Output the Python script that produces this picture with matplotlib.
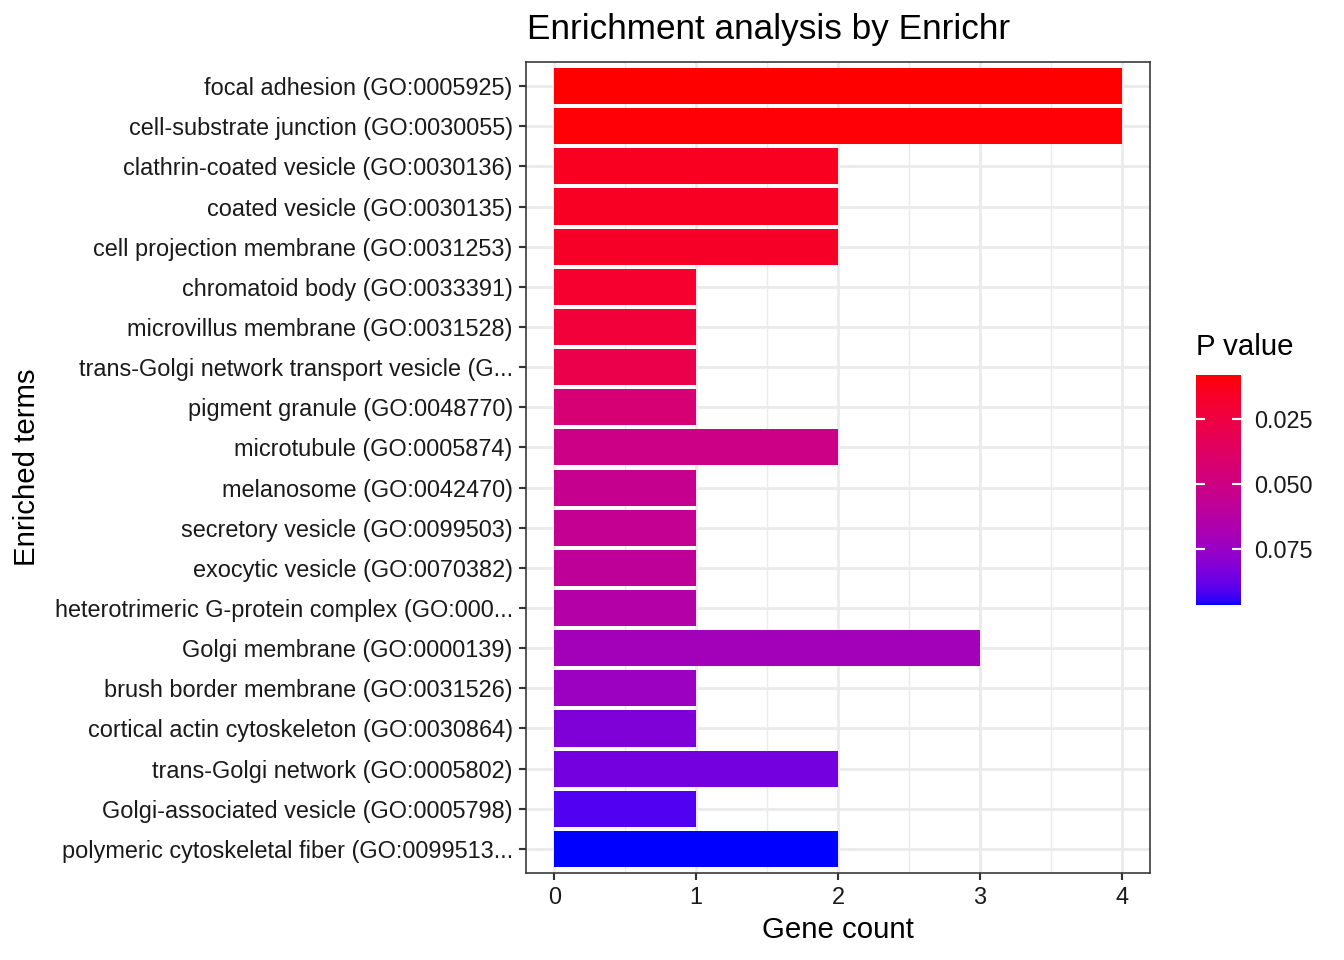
import numpy as np
import matplotlib
matplotlib.use("Agg")
import matplotlib.pyplot as plt
from matplotlib.colors import ListedColormap, Normalize
from matplotlib.cm import ScalarMappable

plt.rcParams['font.family'] = ['Liberation Sans', 'DejaVu Sans']

terms = [
    "focal adhesion (GO:0005925)",
    "cell-substrate junction (GO:0030055)",
    "clathrin-coated vesicle (GO:0030136)",
    "coated vesicle (GO:0030135)",
    "cell projection membrane (GO:0031253)",
    "chromatoid body (GO:0033391)",
    "microvillus membrane (GO:0031528)",
    "trans-Golgi network transport vesicle (G...",
    "pigment granule (GO:0048770)",
    "microtubule (GO:0005874)",
    "melanosome (GO:0042470)",
    "secretory vesicle (GO:0099503)",
    "exocytic vesicle (GO:0070382)",
    "heterotrimeric G-protein complex (GO:000...",
    "Golgi membrane (GO:0000139)",
    "brush border membrane (GO:0031526)",
    "cortical actin cytoskeleton (GO:0030864)",
    "trans-Golgi network (GO:0005802)",
    "Golgi-associated vesicle (GO:0005798)",
    "polymeric cytoskeletal fiber (GO:0099513...",
]
gene_count = [4, 4, 2, 2, 2, 1, 1, 1, 1, 2, 1, 1, 1, 1, 3, 1, 1, 2, 1, 2]
p_values = [0.0080, 0.0088, 0.0140, 0.0150, 0.0165, 0.0185, 0.0225, 0.0285,
            0.0440, 0.0515, 0.0545, 0.0560, 0.0585, 0.0640, 0.0710, 0.0740,
            0.0820, 0.0850, 0.0910, 0.0965]
cbar_ticks = [0.025, 0.050, 0.075]
cbar_ticklabels = ["0.025", "0.050", "0.075"]
x_ticks = [0, 1, 2, 3, 4]


# ---- Lab interpolation red -> blue (like ggplot's scale_fill_gradient) ----
def srgb_to_lab(rgb):
    rgb = np.asarray(rgb, float)
    lin = np.where(rgb <= 0.04045, rgb / 12.92, ((rgb + 0.055) / 1.055) ** 2.4)
    M = np.array([[0.4124564, 0.3575761, 0.1804375],
                  [0.2126729, 0.7151522, 0.0721750],
                  [0.0193339, 0.1191920, 0.9503041]])
    xyz = M @ lin
    wp = np.array([0.95047, 1.0, 1.08883])
    t = xyz / wp
    f = np.where(t > (6 / 29) ** 3, np.cbrt(t), t / (3 * (6 / 29) ** 2) + 4 / 29)
    return np.array([116 * f[1] - 16, 500 * (f[0] - f[1]), 200 * (f[1] - f[2])])


def lab_to_srgb(lab):
    L, a, b = lab
    fy = (L + 16) / 116
    fx = fy + a / 500
    fz = fy - b / 200
    def finv(f):
        return f ** 3 if f > 6 / 29 else 3 * (6 / 29) ** 2 * (f - 4 / 29)
    wp = np.array([0.95047, 1.0, 1.08883])
    xyz = np.array([finv(fx), finv(fy), finv(fz)]) * wp
    Minv = np.array([[3.2404542, -1.5371385, -0.4985314],
                     [-0.9692660, 1.8760108, 0.0415560],
                     [0.0556434, -0.2040259, 1.0572252]])
    lin = np.clip(Minv @ xyz, 0, 1)
    rgb = np.where(lin <= 0.0031308, 12.92 * lin, 1.055 * lin ** (1 / 2.4) - 0.055)
    return np.clip(rgb, 0, 1)


lab_lo = srgb_to_lab([1, 0, 0])
lab_hi = srgb_to_lab([0, 0, 1])
cols = [lab_to_srgb(lab_lo + t * (lab_hi - lab_lo)) for t in np.linspace(0, 1, 256)]
cmap = ListedColormap(cols)
norm = Normalize(vmin=min(p_values), vmax=max(p_values))

W, H = 1344, 960
fig = plt.figure(figsize=(7, 5), dpi=192)

ax = fig.add_axes([526 / W, 1 - 873 / H, 624 / W, 811 / H])
n = len(terms)
ypos = np.arange(n, 0, -1)
ax.barh(ypos, gene_count, height=0.9, color=[cmap(norm(p)) for p in p_values],
        zorder=3, linewidth=0)
ax.set_xlim(-0.2, 4.2)
ax.set_ylim(0.4, n + 0.6)
ax.set_yticks(ypos)
ax.set_yticklabels(terms)
ax.set_xticks(x_ticks)
ax.set_xticklabels([str(v) for v in x_ticks])
ax.set_xticks([0.5, 1.5, 2.5, 3.5], minor=True)
ax.grid(which='major', color='#EBEBEB', linewidth=1.07, zorder=0)
ax.grid(which='minor', axis='x', color='#EBEBEB', linewidth=0.53, zorder=0)
ax.set_axisbelow(True)
for s in ax.spines.values():
    s.set_color('#333333')
    s.set_linewidth(0.6)
ax.tick_params(which='major', length=2.75, width=0.8, color='#333333',
               labelsize=8.8, labelcolor='#1A1A1A', pad=2.2)
ax.tick_params(which='minor', length=0)
ax.set_xlabel("Gene count", fontsize=11, labelpad=2.5)
ax.set_ylabel("Enriched terms", fontsize=11, labelpad=5)

fig.text(527 / W, 1 - 30 / H, "Enrichment analysis by Enrichr", fontsize=13.2,
         ha='left', va='center')

# colorbar
cax = fig.add_axes([1196 / W, 1 - 605 / H, 45 / W, 230 / H])
sm = ScalarMappable(norm=norm, cmap=cmap)
cb = fig.colorbar(sm, cax=cax)
cb.outline.set_visible(False)
cax.invert_yaxis()
cb.set_ticks(cbar_ticks)
cb.set_ticklabels(cbar_ticklabels)
cax.tick_params(which='major', left=True, right=True, direction='in',
                color='white', length=45 / 5 * 72 / 192, width=0.8,
                labelsize=8.8, labelcolor='#1A1A1A', pad=5)
cax.tick_params(which='minor', length=0)
fig.text(1196 / W, 1 - 347 / H, "P value", fontsize=11, ha='left', va='center')

fig.savefig("out.png", dpi=192)
